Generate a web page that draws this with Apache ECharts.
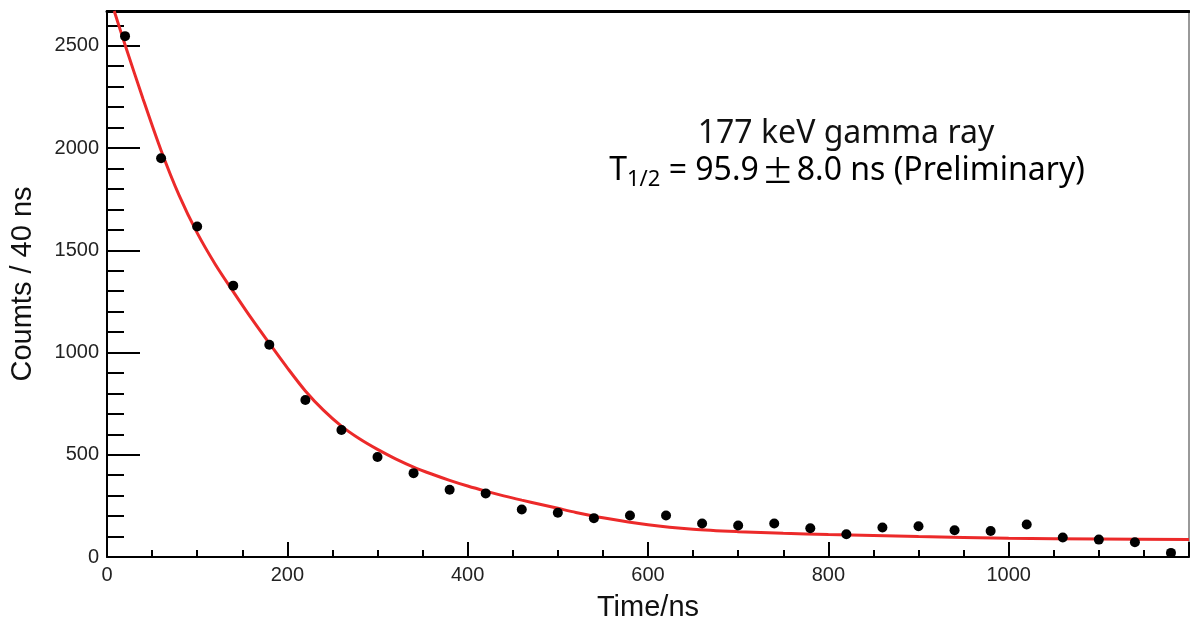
<!DOCTYPE html>
<html>
<head>
<meta charset="utf-8">
<script src="https://cdn.jsdelivr.net/npm/echarts@6/dist/echarts.min.js"></script>
<style>
  html, body { margin: 0; padding: 0; background: #fff; }
  #chart { width: 1190px; height: 619px; }
</style>
</head>
<body>
<div id="chart"></div>
<script>
// measured bins: 40 ns wide, centred on 20, 60, ... 1180
const times = [20, 60, 100, 140, 180, 220, 260, 300, 340, 380, 420, 460, 500, 540, 580,
  620, 660, 700, 740, 780, 820, 860, 900, 940, 980, 1020, 1060, 1100, 1140, 1180];
const counts = [2547, 1950, 1616, 1327, 1038, 768, 621, 489, 410, 329, 311, 232, 216, 190, 203,
  203, 164, 154, 164, 141, 111, 144, 150, 131, 127, 159, 95, 85, 72, 20];

// fit curve
const fitT = [8, 20, 40, 60, 80, 100, 120, 140, 160, 180, 200, 220, 240, 260, 280, 300, 320, 340,
  360, 380, 400, 420, 440, 460, 480, 500, 520, 550, 600, 650, 700, 750, 800, 900, 1000, 1100, 1200];
const fitY = [2670, 2505, 2240, 1988, 1768, 1585, 1432, 1298, 1168, 1045, 925, 812, 718, 640, 578,
  526, 480, 440, 406, 375, 347, 322, 299, 278, 258, 238, 218, 192, 158, 136, 124, 116, 110, 100,
  92, 88, 85];

const xMax = 1200;
const yMax = 2670;

const chart = echarts.init(document.getElementById('chart'));

const gridBox = { left: 107, right: 1, top: 11, bottom: 62, outerBoundsMode: 'none' };
const tickFont = { fontFamily: 'Liberation Sans', fontSize: 20, color: '#222' };

const option = {
  animation: false,
  grid: [gridBox, gridBox],
  xAxis: [
    {
      gridIndex: 0, type: 'value', position: 'bottom', min: 0, max: xMax, interval: 200,
      name: 'Time/ns', nameLocation: 'middle', nameGap: 36,
      nameTextStyle: { fontFamily: 'Liberation Sans', fontSize: 29, color: '#111' },
      axisLine: { show: true, onZero: false, lineStyle: { color: '#000', width: 2 } },
      axisTick: { show: true, inside: true, length: 15, lineStyle: { color: '#000', width: 2 } },
      axisLabel: Object.assign({ margin: 8, formatter: v => (v >= xMax ? '' : v) }, tickFont),
      splitLine: { show: false }
    },
    {
      // top frame
      gridIndex: 0, type: 'value', position: 'top', min: 0, max: xMax,
      axisLine: { show: true, onZero: false, lineStyle: { color: '#000', width: 3 } },
      axisTick: { show: false }, axisLabel: { show: false }, splitLine: { show: false }
    },
    {
      // minor ticks
      gridIndex: 1, type: 'value', position: 'bottom', min: 0, max: xMax, interval: 50,
      axisLine: { show: false, onZero: false },
      axisTick: { show: true, inside: true, length: 7, lineStyle: { color: '#000', width: 2 } },
      axisLabel: { show: false }, splitLine: { show: false }
    }
  ],
  yAxis: [
    {
      gridIndex: 0, type: 'value', position: 'left', min: 0, max: yMax, interval: 500,
      name: 'Coumts / 40 ns', nameLocation: 'middle', nameGap: 70, nameRotate: 90,
      nameTextStyle: { fontFamily: 'Liberation Sans', fontSize: 29, color: '#111' },
      axisLine: { show: true, onZero: false, lineStyle: { color: '#000', width: 2 } },
      axisTick: { show: true, inside: true, length: 33, lineStyle: { color: '#000', width: 2 } },
      axisLabel: Object.assign({ margin: 8, formatter: v => (v % 500 === 0 ? v : '') }, tickFont),
      splitLine: { show: false }
    },
    {
      // right frame
      gridIndex: 0, type: 'value', position: 'right', min: 0, max: yMax,
      axisLine: { show: true, onZero: false, lineStyle: { color: '#777', width: 1.5 } },
      axisTick: { show: false }, axisLabel: { show: false }, splitLine: { show: false }
    },
    {
      gridIndex: 1, type: 'value', position: 'left', min: 0, max: yMax, interval: 100,
      axisLine: { show: false, onZero: false },
      axisTick: { show: true, inside: true, length: 17, lineStyle: { color: '#000', width: 2 } },
      axisLabel: { show: false }, splitLine: { show: false }
    }
  ],
  series: [
    {
      type: 'line', xAxisIndex: 0, yAxisIndex: 0,
      data: fitT.map((t, i) => [t, fitY[i]]),
      smooth: 0.3, showSymbol: false, silent: true,
      lineStyle: { color: '#ec2a2a', width: 3 }, z: 2
    },
    {
      type: 'scatter', xAxisIndex: 0, yAxisIndex: 0,
      data: times.map((t, i) => [t, counts[i]]),
      symbol: 'circle', symbolSize: 10,
      itemStyle: { color: '#000', opacity: 1 }, z: 3
    }
  ],
  graphic: [
    {
      type: 'text', x: 846, y: 134,
      style: {
        text: '177 keV gamma ray', fill: '#111',
        font: '32px "Noto Sans"', textAlign: 'center', textVerticalAlign: 'middle'
      }
    },
    {
      type: 'text', x: 847, y: 171,
      style: {
        text: '{t|T}{s|1/2}{t| = 95.9}{pm|±}{t|8.0 ns (Preliminary)}',
        textAlign: 'center', textVerticalAlign: 'middle',
        rich: {
          t: { fontFamily: 'Noto Sans', fontSize: 32, lineHeight: 40, color: '#111' },
          s: { fontFamily: 'Noto Sans', fontSize: 22, lineHeight: 8, verticalAlign: 'bottom', color: '#111' },
          pm: { fontFamily: 'Noto Sans CJK JP', fontSize: 32, lineHeight: 40, padding: [0, 3], color: '#111' }
        }
      }
    }
  ]
};

chart.setOption(option);
</script>
</body>
</html>
